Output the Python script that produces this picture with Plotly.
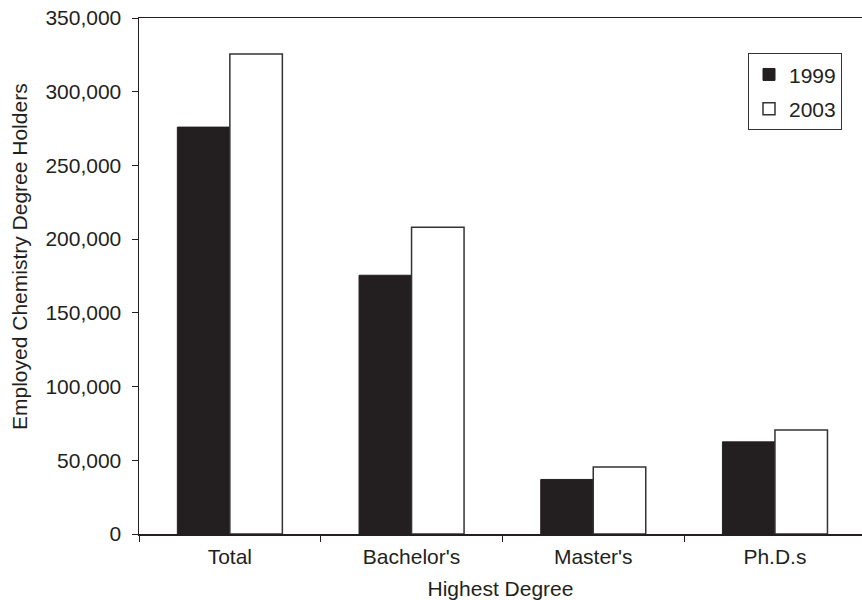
import plotly.graph_objects as go

categories = ["Total", "Bachelor's", "Master's", "Ph.D.s"]
series_names = ["1999", "2003"]
values_1999 = [276000, 175500, 37000, 62500]
values_2003 = [325500, 208000, 45500, 70500]
y_tick_values = [0, 50000, 100000, 150000, 200000, 250000, 300000, 350000]

FONT = "Liberation Sans, Arial, Helvetica, sans-serif"
TXT = "#231f20"

fig = go.Figure()
fig.add_trace(go.Bar(
    x=categories, y=values_1999, name=series_names[0], legendgroup="a",
    marker=dict(color="#231f20", line=dict(color="#231f20", width=1)),
))
fig.add_trace(go.Bar(
    x=categories, y=values_2003, name=series_names[1], legendgroup="b",
    marker=dict(color="#ffffff", line=dict(color="#333333", width=1.5)),
))

W, H = 862, 600
L, R, T, B = 139, 0, 18, 66
plot_h = H - T - B
plot_w = W - L - R
cat_px = 181.7
x_hi = -0.5 + plot_w / cat_px
PX0, PY0 = L, T  # plot origin in page pixels

fig.update_layout(
    width=W, height=H,
    margin=dict(l=L, r=R, t=T, b=B, pad=0, autoexpand=False),
    paper_bgcolor="white", plot_bgcolor="white",
    font=dict(family=FONT, size=21, color=TXT),
    barmode="group", bargap=0.422, bargroupgap=0,
    showlegend=True,
    hovermode=False,
    legend=dict(
        x=(748 - PX0) / plot_w, y=1 - (53.3 - PY0) / plot_h,
        xanchor="left", yanchor="top",
        bordercolor="#333333", borderwidth=1, bgcolor="white",
        font=dict(family=FONT, size=21, color=TXT),
        traceorder="grouped", tracegroupgap=4,
        itemwidth=30,
    ),
    xaxis=dict(
        range=[-0.5, x_hi], automargin=False,
        showline=True, linecolor="#231f20", linewidth=1.5, mirror=True,
        ticks="outside", ticklen=6, tickcolor="#231f20", tickwidth=1,
        tickson="boundaries", showgrid=False, zeroline=False,
        tickfont=dict(family=FONT, size=21, color=TXT),
        ticklabelstandoff=3,
        title=dict(text="Highest Degree", font=dict(family=FONT, size=21, color=TXT), standoff=19),
        fixedrange=True,
    ),
    yaxis=dict(
        range=[0, 350000], automargin=False,
        tickvals=y_tick_values, tickformat=",",
        showline=True, linecolor="#231f20", linewidth=1.5,
        ticks="outside", ticklen=6, tickcolor="#231f20", tickwidth=1,
        showgrid=False, zeroline=False,
        tickfont=dict(family=FONT, size=21, color=TXT),
        ticklabelstandoff=6, ticklabeloverflow="allow",
        fixedrange=True,
    ),
    annotations=[dict(
        text="Employed Chemistry Degree Holders",
        xref="paper", yref="paper",
        x=(19 - PX0) / plot_w, y=1 - (257 - PY0) / plot_h,
        xanchor="center", yanchor="middle", textangle=-90, showarrow=False,
        font=dict(family=FONT, size=21, color=TXT),
    )],
)

# remove the default 8px page margin so the figure fills the window exactly
fig.write_html(
    "out.html",
    config={"displayModeBar": False, "staticPlot": True},
    post_script="document.body.style.margin='0';",
)
